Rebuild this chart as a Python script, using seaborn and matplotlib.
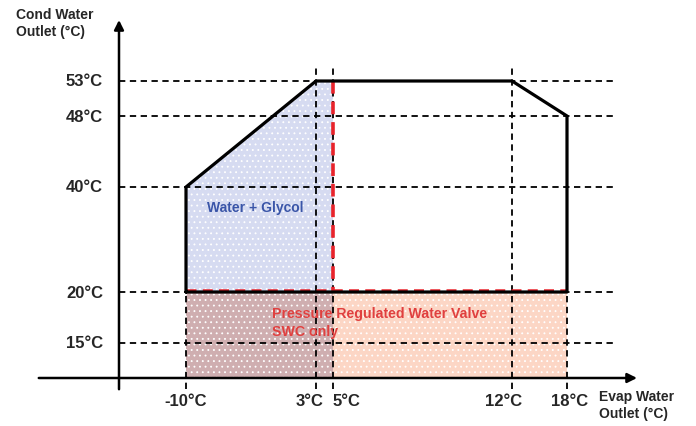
import numpy as np
import pandas as pd
import seaborn as sns
from matplotlib import pyplot as plt
from matplotlib import transforms

sns.set_style("white")
plt.rcParams['font.family'] = ['Liberation Sans', 'DejaVu Sans']
plt.rcParams['hatch.linewidth'] = 0.6

# Datos del diagrama (temperaturas en °C)
x_ticks = [-10, 3, 5, 12, 18]
x_labels = ["-10°C", "3°C", "5°C", "12°C", "18°C"]
y_ticks = [15, 20, 40, 48, 53]
y_labels = ["15°C", "20°C", "40°C", "48°C", "53°C"]

envelope_x = [-10, -10, 3, 12, 18, 18, -10]
envelope_y = [20, 40, 53, 53, 48, 20, 20]

glycol_x = [-10, -10, 3, 5, 5]
glycol_y = [20, 40, 53, 53, 20]

valve_x = [-10, 5, 18]
valve_top = 20

# La escala del esquema no es lineal: tramos lineales entre las marcas
X_VALS = [-28.6, -10, 3, 5, 12, 18, 32.0]
X_PX = [0, 186, 316, 333, 512, 567, 696]
Y_VALS = [6.7, 15, 20, 40, 48, 53, 64.7]
Y_PX = [0, 83, 134, 239, 310, 345, 427]

x0, y0 = -16.7, 11.5   # cruce de los ejes

fig = plt.figure(figsize=(6.96, 4.27), dpi=100)
ax = fig.add_axes([0, 0, 1, 1])
ax.set_xscale('function', functions=(lambda v: np.interp(v, X_VALS, X_PX),
                                     lambda p: np.interp(p, X_PX, X_VALS)))
ax.set_yscale('function', functions=(lambda v: np.interp(v, Y_VALS, Y_PX),
                                     lambda p: np.interp(p, Y_PX, Y_VALS)))
ax.set_xlim(X_VALS[0], X_VALS[-1])
ax.set_ylim(Y_VALS[0], Y_VALS[-1])
ax.axis('off')

# Zonas rellenas
ax.fill(glycol_x, glycol_y, facecolor="#d6dbf1", edgecolor="white", hatch="...", lw=0, zorder=1)
ax.fill_between(valve_x[:2], y0, valve_top, facecolor="#cfaeb0", edgecolor="white",
                hatch="...", lw=0, zorder=1)
ax.fill_between(valve_x[1:], y0, valve_top, facecolor="#fcd6c5", edgecolor="white",
                hatch="...", lw=0, zorder=1)

# Líneas discontinuas de referencia
dash = dict(color="black", lw=1.3, ls=(0, (3.5, 2.5)), zorder=2)
for y in y_ticks:
    ax.plot([x0, 23.1], [y, y], **dash)
for x in x_ticks:
    top = 20 if x in (-10, 18) else 55.4
    ax.plot([x, x], [10.4, top], **dash)

# Línea roja (válvula reguladora)
red = dict(color="#e8232b", lw=2.6, ls=(0, (3.5, 2.2)), zorder=3)
ax.plot([5, 5], [53, 20], **red)
up = transforms.offset_copy(ax.transData, fig=fig, y=1.5, units='points')
ax.plot([-10, 18], [20, 20], transform=up, color="#e8232b", lw=1.8, ls=(0, (4, 2.5)), zorder=3)

# Envolvente de funcionamiento
df_env = pd.DataFrame({"x": envelope_x, "y": envelope_y})
sns.lineplot(x="x", y="y", data=df_env, sort=False, estimator=None, color="black",
             lw=2.3, ax=ax, zorder=4)
ax.axis('off')

# Ejes con flechas
ax.annotate("", xy=(25.9, y0), xytext=(-25.0, y0),
            arrowprops=dict(arrowstyle="-|>", color="black", lw=1.8, mutation_scale=14), zorder=5)
ax.annotate("", xy=(x0, 62.1), xytext=(x0, 10.1),
            arrowprops=dict(arrowstyle="-|>", color="black", lw=1.8, mutation_scale=14), zorder=5)

# Etiquetas
for y, lab in zip(y_ticks, y_labels):
    ax.annotate(lab, xy=(x0, y), xytext=(-16, 0), textcoords="offset pixels",
                ha="right", va="center", fontsize=12, fontweight="bold")
offsets = [0, 7, 0, -8, 3]
aligns = ["center", "right", "left", "center", "center"]
for x, lab, dx, ha in zip(x_ticks, x_labels, offsets, aligns):
    ax.annotate(lab, xy=(x, y0), xytext=(dx, -23), textcoords="offset pixels",
                ha=ha, va="center", fontsize=12, fontweight="bold")

ax.text(16 / 696, 1 - 8 / 427, "Cond Water\nOutlet (°C)", transform=ax.transAxes,
        ha="left", va="top", fontsize=10, fontweight="bold", linespacing=1.3)
ax.text(599 / 696, 1 - 390 / 427, "Evap Water\nOutlet (°C)", transform=ax.transAxes,
        ha="left", va="top", fontsize=10, fontweight="bold", linespacing=1.3)

ax.text(-3.1, 36.2, "Water + Glycol", ha="center", va="center", fontsize=10,
        fontweight="bold", color="#3a55a8", zorder=6)
ax.text(272 / 696, 1 - 323 / 427, "Pressure Regulated Water Valve\nSWC only",
        transform=ax.transAxes, ha="left", va="center", fontsize=10.2,
        fontweight="bold", color="#e0403f", linespacing=1.4, zorder=6)

fig.savefig("out.png", dpi=100)
